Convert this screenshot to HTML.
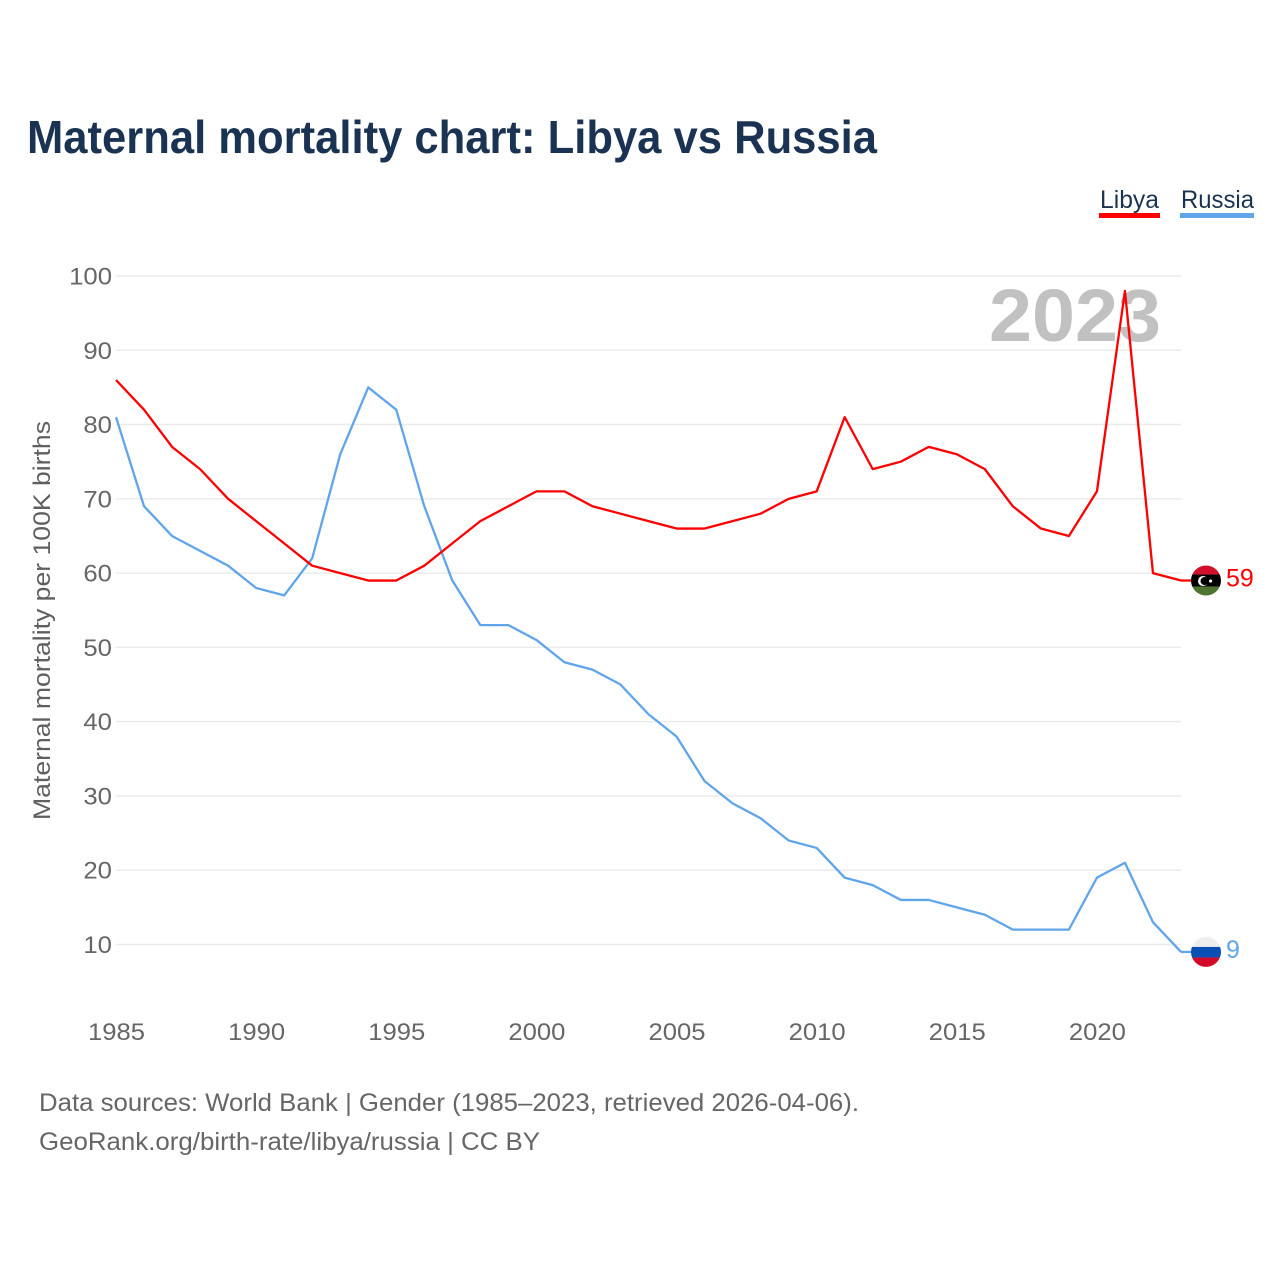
<!DOCTYPE html>
<html lang="en">
<head>
<meta charset="utf-8">
<title>Maternal mortality chart: Libya vs Russia</title>
<style>
html,body{margin:0;padding:0;background:#fff}
svg{display:block}
text{font-family:"Liberation Sans",sans-serif}
</style>
</head>
<body>
<svg id="chart" xmlns="http://www.w3.org/2000/svg" width="1280" height="1280" viewBox="0 0 1280 1280">
  <rect width="1280" height="1280" fill="#fff"/>
  <text x="27" y="153" font-size="46" font-weight="700" fill="#1b3352" textLength="850" lengthAdjust="spacingAndGlyphs">Maternal mortality chart: Libya vs Russia</text>
  <g id="grid"></g>
  <text x="989" y="341" font-size="74" font-weight="700" fill="#c1c1c1" textLength="172" lengthAdjust="spacingAndGlyphs">2023</text>
  <g id="ylabels"></g>
  <g id="xlabels"></g>
  <text transform="translate(50,820) rotate(-90)" font-size="24" fill="#5f5f5f" textLength="399" lengthAdjust="spacingAndGlyphs">Maternal mortality per 100K births</text>
  <path id="line-russia" fill="none" stroke="#60a5ea" stroke-width="2.3" stroke-linejoin="round"/>
  <path id="line-libya" fill="none" stroke="#ff0000" stroke-width="2.3" stroke-linejoin="round"/>
  <line id="leader-russia" stroke="#60a5ea" stroke-width="2.3"/>
  <line id="leader-libya" stroke="#ff0000" stroke-width="2.3"/>

  <g id="legend-libya">
    <text x="1100" y="208" font-size="25" fill="#1b3352" textLength="59" lengthAdjust="spacingAndGlyphs">Libya</text>
    <rect x="1099" y="213" width="61" height="5" fill="#ff0000"/>
  </g>
  <g id="legend-russia">
    <text x="1181" y="208" font-size="25" fill="#1b3352" textLength="73" lengthAdjust="spacingAndGlyphs">Russia</text>
    <rect x="1180" y="213" width="74" height="5" fill="#60a5ea"/>
  </g>

  <defs>
    <clipPath id="clip-libya"><circle cx="0" cy="0" r="15"/></clipPath>
    <clipPath id="clip-russia"><circle cx="0" cy="0" r="15"/></clipPath>
  </defs>
  <g id="flag-libya" clip-path="url(#clip-libya)">
    <rect x="-15" y="-15" width="30" height="9" fill="#d2102c"/>
    <rect x="-15" y="-6" width="30" height="12" fill="#000"/>
    <rect x="-15" y="6" width="30" height="9" fill="#4f7331"/>
    <circle cx="-3" cy="0.5" r="5" fill="#fff"/>
    <circle cx="-1.5" cy="0.5" r="4" fill="#000"/>
    <circle cx="4.6" cy="0.5" r="1.6" fill="#fff"/>
  </g>
  <g id="flag-russia" clip-path="url(#clip-russia)">
    <rect x="-15" y="-15" width="30" height="10" fill="#eeeeee"/>
    <rect x="-15" y="-5" width="30" height="10.6" fill="#0a50b4"/>
    <rect x="-15" y="5.6" width="30" height="10" fill="#d40a2a"/>
  </g>
  <text id="value-libya" font-size="25" fill="#ff0000"></text>
  <text id="value-russia" font-size="25" fill="#60a5ea"></text>

  <text x="39" y="1111" font-size="25" fill="#666666" textLength="820" lengthAdjust="spacingAndGlyphs">Data sources: World Bank | Gender (1985–2023, retrieved 2026-04-06).</text>
  <text x="39" y="1150" font-size="25" fill="#666666" textLength="501" lengthAdjust="spacingAndGlyphs">GeoRank.org/birth-rate/libya/russia | CC BY</text>
</svg>
<script>
const startYear = 1985;
const libya = [86,82,77,74,70,67,64,61,60,59,59,61,64,67,69,71,71,69,68,67,66,66,67,68,70,71,81,74,75,77,76,74,69,66,65,71,98,60,59];
const russia = [81,69,65,63,61,58,57,62,76,85,82,69,59,53,53,51,48,47,45,41,38,32,29,27,24,23,19,18,16,16,15,14,12,12,12,19,21,13,9];
const yTicks = [10,20,30,40,50,60,70,80,90,100];
const xTicks = [1985,1990,1995,2000,2005,2010,2015,2020];

const SVGNS = 'http://www.w3.org/2000/svg';
function xScale(year){ return 116 + (year - 1985) * (1181 - 116) / (2023 - 1985); }
function yScale(v){ return 944.5 - (v - 10) * (944.5 - 276) / 90; }
function linePath(values){
  return values.map(function(v,i){
    return (i ? 'L' : 'M') + xScale(startYear + i).toFixed(2) + ' ' + yScale(v).toFixed(2);
  }).join('');
}

const grid = document.getElementById('grid');
const ylabels = document.getElementById('ylabels');
const xlabels = document.getElementById('xlabels');

yTicks.forEach(function(t){
  const l = document.createElementNS(SVGNS,'line');
  
  
  l.setAttribute('x1', 116);
  l.setAttribute('x2', 1181);
  l.setAttribute('y1', yScale(t));
  l.setAttribute('y2', yScale(t));
  l.setAttribute('stroke', '#ebebeb');
  l.setAttribute('stroke-width', '1.5');
  grid.appendChild(l);

  const s = document.createElementNS(SVGNS,'text');
  
  
  const w = String(t).length * 14.3;
  s.setAttribute('x', 112 - w);
  s.setAttribute('y', yScale(t) + 8.5);
  s.setAttribute('font-size', '24');
  s.setAttribute('fill', '#666666');
  s.setAttribute('textLength', w);
  s.setAttribute('lengthAdjust', 'spacingAndGlyphs');
  s.textContent = t;
  ylabels.appendChild(s);
});

xTicks.forEach(function(t){
  const s = document.createElementNS(SVGNS,'text');
  
  
  s.setAttribute('x', xScale(t) - 28);
  s.setAttribute('y', 1040);
  s.setAttribute('font-size', '24');
  s.setAttribute('fill', '#666666');
  s.setAttribute('textLength', 57);
  s.setAttribute('lengthAdjust', 'spacingAndGlyphs');
  s.textContent = t;
  xlabels.appendChild(s);
});

document.getElementById('line-libya').setAttribute('d', linePath(libya));
document.getElementById('line-russia').setAttribute('d', linePath(russia));

const lastLibya = libya[libya.length - 1];
const lastRussia = russia[russia.length - 1];
const leaderL = document.getElementById('leader-libya');
leaderL.setAttribute('x1', xScale(2023));
leaderL.setAttribute('x2', 1192);
leaderL.setAttribute('y1', yScale(lastLibya));
leaderL.setAttribute('y2', yScale(lastLibya));
const leaderR = document.getElementById('leader-russia');
leaderR.setAttribute('x1', xScale(2023));
leaderR.setAttribute('x2', 1192);
leaderR.setAttribute('y1', yScale(lastRussia));
leaderR.setAttribute('y2', yScale(lastRussia));
document.getElementById('flag-libya').setAttribute('transform', 'translate(1206,' + yScale(lastLibya) + ')');
document.getElementById('flag-russia').setAttribute('transform', 'translate(1206,' + yScale(lastRussia) + ')');
const vl = document.getElementById('value-libya');
vl.setAttribute('x', 1226);
vl.setAttribute('y', yScale(lastLibya) + 6);
vl.textContent = lastLibya;
const vr = document.getElementById('value-russia');
vr.setAttribute('x', 1226);
vr.setAttribute('y', yScale(lastRussia) + 6);
vr.textContent = lastRussia;
</script>
</body>
</html>
